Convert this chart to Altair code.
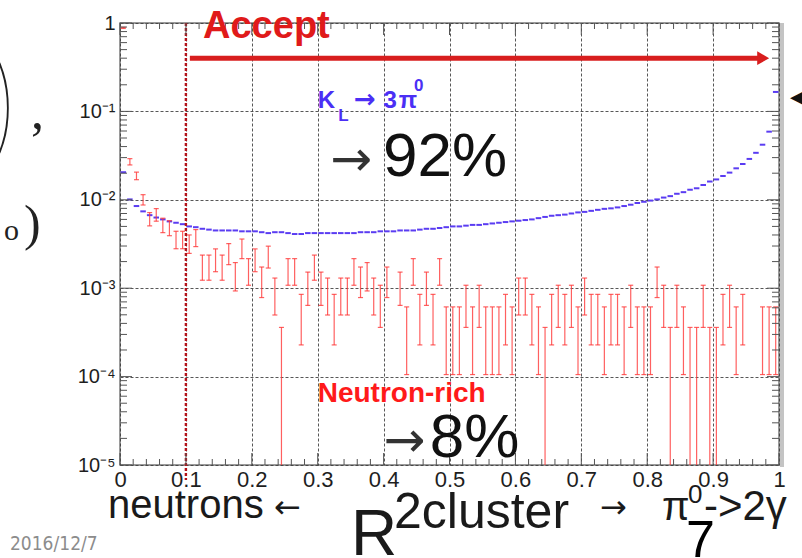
import math
import altair as alt
import pandas as pd

# ------------------------------------------------------------------ data
bin_low = [i / 100 for i in range(100)]          # 100 bins of width 0.01
bin_width = 0.01

# neutron-rich sample: entries per bin (each entry weighs red_unit)
red_counts = [4890, 150, 104, 56, 34, 38, 29, 27, 20, 20,
              18, 21, 10, 10, 12, 10, 14, 8, 16, 9,
              12, 7, 13, 5, 1, 9, 9, 3, 6, 10,
              6, 5, 3, 5, 5, 9, 7, 8, 5, 4,
              7, 0, 6, 2, 9, 3, 6, 3, 9, 2,
              2, 2, 4, 2, 4, 2, 2, 2, 3, 2,
              5, 5, 3, 2, 1, 3, 4, 3, 4, 2,
              5, 3, 3, 2, 3, 3, 2, 4, 2, 2,
              2, 7, 4, 1, 4, 2, 1, 1, 4, 1,
              1, 3, 4, 2, 3, 0, 0, 2, 2, 2]
red_unit = 1.8e-4

# KL -> 3pi0 sample: normalised content per bin
blue_values = [0.0205, 0.0101, 0.0085, 0.0074, 0.0067, 0.0063, 0.0060, 0.0057, 0.0055, 0.0053,
               0.0050, 0.0049, 0.0047, 0.0046, 0.0045, 0.0045, 0.0045, 0.0045, 0.0044, 0.0044,
               0.0044, 0.0043, 0.0042, 0.0043, 0.0043, 0.0042, 0.0041, 0.0041, 0.0042, 0.0042,
               0.0042, 0.0042, 0.0042, 0.0042, 0.0042, 0.0042, 0.0043, 0.0043, 0.0043, 0.0044,
               0.0044, 0.0044, 0.0045, 0.0045, 0.0045, 0.0046, 0.0047, 0.0047, 0.0048, 0.0049,
               0.0050, 0.0050, 0.0051, 0.0052, 0.0052, 0.0053, 0.0054, 0.0055, 0.0056, 0.0057,
               0.0058, 0.0059, 0.0060, 0.0062, 0.0064, 0.0066, 0.0067, 0.0068, 0.0070, 0.0072,
               0.0073, 0.0075, 0.0077, 0.0079, 0.0080, 0.0082, 0.0085, 0.0088, 0.0092, 0.0095,
               0.0098, 0.0101, 0.0106, 0.0110, 0.0117, 0.0122, 0.0130, 0.0135, 0.0147, 0.0161,
               0.0170, 0.0186, 0.0203, 0.0227, 0.0254, 0.0290, 0.0340, 0.0420, 0.0590, 0.1660]

x_tick_values = [0.0, 0.1, 0.2, 0.3, 0.4, 0.5, 0.6, 0.7, 0.8, 0.9, 1.0]
x_minor_values = [0.02, 0.04, 0.06, 0.08, 0.12, 0.14, 0.16, 0.18, 0.22, 0.24, 0.26, 0.28,
                  0.32, 0.34, 0.36, 0.38, 0.42, 0.44, 0.46, 0.48, 0.52, 0.54, 0.56, 0.58,
                  0.62, 0.64, 0.66, 0.68, 0.72, 0.74, 0.76, 0.78, 0.82, 0.84, 0.86, 0.88,
                  0.92, 0.94, 0.96, 0.98]
y_tick_values = [1e-5, 1e-4, 1e-3, 1e-2, 1e-1, 1.0]
y_tick_labels = ["10⁻⁵", "10⁻⁴", "10⁻³", "10⁻²", "10⁻¹", "1"]
y_minor_values = [m * 10.0 ** k for k in range(-5, 0) for m in range(2, 10)]

cut_value = [0.1]

# ------------------------------------------------------------------ tables
floor_y = 1e-5
red_rows = []
for lo, n in zip(bin_low, red_counts):
    if n <= 0:
        continue
    v = n * red_unit
    e = math.sqrt(n) * red_unit
    c = lo + bin_width / 2
    red_rows.append({"c": c, "cl": c - 0.0038, "cr": c + 0.0038,
                     "lo": max(v - e, floor_y), "hi": v + e,
                     "haslo": (v - e) > floor_y})
df_red = pd.DataFrame(red_rows)
df_red_lo = df_red[df_red["haslo"]]

df_blue = pd.DataFrame({"lo": [b + 0.0008 for b in bin_low],
                        "hi": [b + bin_width - 0.0008 for b in bin_low],
                        "v": blue_values})

FONT = "Liberation Sans"
SERIF = "Liberation Serif"
RED = "#ff3838"
BLUE = "#5a3cf2"

xs = alt.Scale(domain=[0, 1], nice=False, zero=False)
ys = alt.Scale(type="log", domain=[1e-5, 1], nice=False)

label_array = "[" + ",".join("'" + t + "'" for t in y_tick_labels) + "]"

x_axis = alt.Axis(values=x_tick_values, format=".1~f", title=None, grid=True,
                  gridDash=[3, 2], gridColor="#3a3a3a", gridWidth=1, gridOpacity=0.85,
                  ticks=False, domain=False, labelFont=FONT, labelFontSize=22,
                  labelColor="#1e1e1e", labelPadding=4, labelFlush=False)
y_axis = alt.Axis(values=y_tick_values,
                  labelExpr=label_array + "[round(log(datum.value)/LN10)+5]",
                  title=None, grid=True, gridDash=[3, 2], gridColor="#3a3a3a",
                  gridWidth=1, gridOpacity=0.85, ticks=False, domain=False,
                  labelFont=FONT, labelFontSize=20, labelColor="#1e1e1e",
                  labelPadding=5)


def X(field):
    return alt.X(field, scale=xs, axis=x_axis)


def Y(field):
    return alt.Y(field, scale=ys, axis=y_axis)


# ------------------------------------------------------------------ layers
blue = alt.Chart(df_blue).mark_rule(color=BLUE, strokeWidth=2.0).encode(
    x=X("lo:Q"), x2="hi:Q", y=Y("v:Q"))

red_v = alt.Chart(df_red).mark_rule(color=RED, strokeWidth=1.2, opacity=0.8).encode(
    x=X("c:Q"), y=Y("lo:Q"), y2="hi:Q")
red_top = alt.Chart(df_red).mark_rule(color=RED, strokeWidth=1.2, opacity=0.8).encode(
    x=X("cl:Q"), x2="cr:Q", y=Y("hi:Q"))
red_bot = alt.Chart(df_red_lo).mark_rule(color=RED, strokeWidth=1.2, opacity=0.8).encode(
    x=X("cl:Q"), x2="cr:Q", y=Y("lo:Q"))

cut_line = alt.Chart(pd.DataFrame({"x": cut_value})).mark_rule(
    color="#b3121a", strokeWidth=2.4, strokeDash=[3, 2]).encode(
    x=X("x:Q"), y=alt.value(0), y2=alt.value(457))


# inward ticks on all four sides
def xticks(vals, length, bottom=True):
    y0 = 442 if bottom else 0
    y1 = 442 - length if bottom else length
    return alt.Chart(pd.DataFrame({"x": vals})).mark_rule(color="#555", strokeWidth=1).encode(
        x=X("x:Q"), y=alt.value(y0), y2=alt.value(y1))


def yticks(vals, length, left=True):
    x0 = 0 if left else 659
    x1 = length if left else 659 - length
    return alt.Chart(pd.DataFrame({"y": vals})).mark_rule(color="#555", strokeWidth=1).encode(
        y=Y("y:Q"), x=alt.value(x0), x2=alt.value(x1))


tick_layers = [xticks(x_tick_values, 12, True), xticks(x_minor_values, 6, True),
               xticks(x_tick_values, 12, False), xticks(x_minor_values, 6, False),
               yticks(y_tick_values, 12, True), yticks(y_minor_values, 7, True),
               yticks(y_tick_values, 12, False), yticks(y_minor_values, 7, False)]

right_edge = alt.Chart(pd.DataFrame({"x": [1.0]})).mark_rule(
    color="#c4c4c4", strokeWidth=4).encode(
    x=X("x:Q"), xOffset=alt.value(3), y=alt.value(0), y2=alt.value(444))


def dtext(text, x, y, size, color, weight="normal", font=FONT, align="left",
          baseline="alphabetic"):
    df = pd.DataFrame({"x": [x], "y": [y], "t": [text]})
    return alt.Chart(df).mark_text(fontSize=size, color=color, fontWeight=weight,
                                   font=font, align=align, baseline=baseline).encode(
        x=X("x:Q"), y=Y("y:Q"), text="t:N")


def ptext(text, px, py, size, color, weight="normal", font=FONT, align="left",
          baseline="alphabetic"):
    df = pd.DataFrame({"t": [text]})
    return alt.Chart(df).mark_text(fontSize=size, color=color, fontWeight=weight,
                                   font=font, align=align, baseline=baseline).encode(
        x=alt.value(px - 120), y=alt.value(py - 23), text="t:N")


# Accept arrow
arrow_df = pd.DataFrame({"x": [0.106], "x2": [0.972], "y": [0.40]})
arrow_shaft = alt.Chart(arrow_df).mark_rule(color="#d81e1e", strokeWidth=5).encode(
    x=X("x:Q"), x2="x2:Q", y=Y("y:Q"))
arrow_head = alt.Chart(pd.DataFrame({"x": [0.976], "y": [0.40]})).mark_point(
    shape="triangle-right", filled=True, size=190, color="#d81e1e", opacity=1).encode(
    x=X("x:Q"), y=Y("y:Q"))

annotations = [
    dtext("Accept", 0.126, 0.676, 38, "#e01a1a", "bold"),
    dtext("K", 0.300, 0.109, 24, "#4b2ff5", "bold"),
    dtext("L", 0.331, 0.077, 17, "#4b2ff5", "bold"),
    dtext("→", 0.355, 0.109, 26, "#4b2ff5", "bold", font="DejaVu Sans"),
    dtext("3", 0.400, 0.109, 24, "#4b2ff5", "bold"),
    dtext("π", 0.423, 0.109, 24, "#4b2ff5", "bold"),
    dtext("0", 0.446, 0.170, 17, "#4b2ff5", "bold"),
    dtext("→", 0.319, 0.0186, 50, "#333333", "normal", font="DejaVu Sans"),
    dtext("92%", 0.399, 0.0186, 62, "#111111"),
    dtext("Neutron-rich", 0.300, 5.2e-5, 28, "#ff1a1a", "bold"),
    dtext("→", 0.400, 1.23e-5, 50, "#333333", "normal", font="DejaVu Sans"),
    dtext("8%", 0.470, 1.23e-5, 62, "#111111"),
]

outside = [
    ptext("neutrons", 108, 518, 40, "#1a1a1a"),
    ptext("←", 274, 518, 32, "#1a1a1a", font="DejaVu Sans"),
    ptext("R", 351, 555, 64, "#1a1a1a"),
    ptext("2cluster", 394, 528, 50, "#1a1a1a"),
    ptext("→", 600, 518, 32, "#1a1a1a", font="DejaVu Sans"),
    ptext("π", 662, 520, 40, "#1a1a1a"),
    ptext("0", 688, 503, 26, "#1a1a1a"),
    ptext("->2γ", 704, 520, 42, "#1a1a1a"),
    ptext("7", 686, 557, 52, "#000000"),
    ptext("2016/12/7", 10, 550, 19, "#8c8c8c",
          font="Liberation Sans Narrow, DejaVu Sans Condensed, Liberation Sans"),
    ptext(")", -22, 160, 165, "#222222", weight=100, font="Lato"),
    ptext(",", 31, 128, 52, "#222222", font=SERIF),
    ptext("o", 4, 240, 30, "#222222", font=SERIF),
    ptext(")", 24, 240, 50, "#222222", font=SERIF),
    ptext("◀", 790, 104, 22, "#111111", font="DejaVu Sans"),
]

chart = alt.layer(
    blue, red_v, red_top, red_bot, cut_line, arrow_shaft, arrow_head,
    right_edge, *tick_layers, *annotations, *outside
).properties(
    width=659, height=442,
    autosize=alt.AutoSizeParams(type="none"),
    padding={"left": 120, "top": 23, "right": 23, "bottom": 93},
    background="white",
).configure_view(stroke="#7a7a7a", strokeWidth=1.5)

chart.save("out.html", embed_options={"renderer": "svg", "actions": False})
